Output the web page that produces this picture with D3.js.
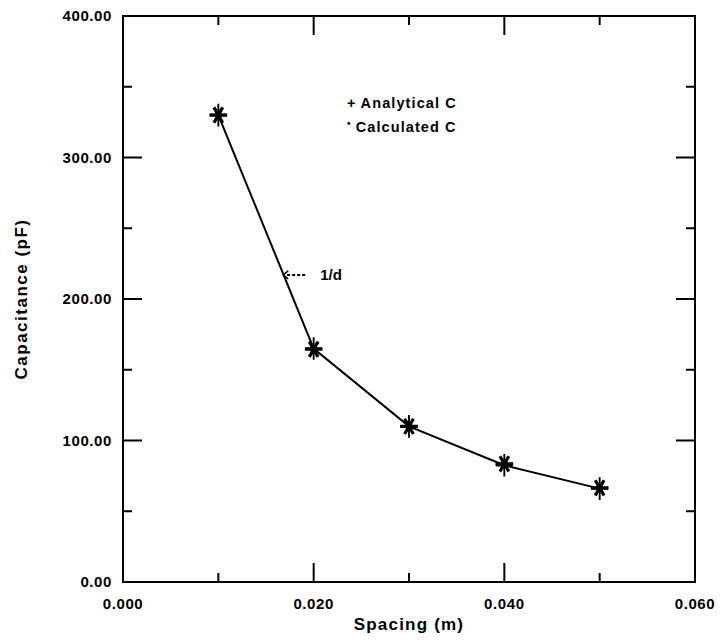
<!DOCTYPE html>
<html>
<head>
<meta charset="utf-8">
<script src="https://cdn.jsdelivr.net/npm/d3@7"></script>
<style>
  body { margin: 0; background: #fff; }
  text { font-family: "Liberation Sans", Arial, sans-serif; font-weight: bold; fill: #000; }
</style>
</head>
<body>
<svg id="chart" width="720" height="640"></svg>
<script>
var SPACING = [0.01, 0.02, 0.03, 0.04, 0.05];
var ANALYTICAL = [330, 165, 110, 82.5, 66];
var CALCULATED = [330, 164.5, 110, 83.5, 66.5];
var X_LABELS = [0, 0.02, 0.04, 0.06];
var X_MINOR = [0.01, 0.03, 0.05];
var Y_LABELS = [0, 100, 200, 300, 400];
var Y_MINOR = [50, 150, 250, 350];
var LEGEND = [['+', 'Analytical C'], ['\u2022', 'Calculated C']];
var NOTE = { x: 0.0168, y: 217, text: '1/d' };

var svg = d3.select('#chart');
var margin = { top: 16, right: 25, bottom: 58, left: 123 };
var width = 720 - margin.left - margin.right;
var height = 640 - margin.top - margin.bottom;

var x = d3.scaleLinear().domain([0, 0.06]).range([0, width]);
var y = d3.scaleLinear().domain([0, 400]).range([height, 0]);

var g = svg.append('g')
    .attr('transform', 'translate(' + margin.left + ',' + margin.top + ')');

// ----- frame + ticks (inward on all four sides) -----
g.append('rect')
    .attr('width', width).attr('height', height)
    .attr('fill', 'none').attr('stroke', '#000').attr('stroke-width', 2);

function xticks(vals, len) {
  vals.forEach(function (v) {
    if (v <= 0 || v >= 0.06) return;
    g.append('line').attr('x1', x(v)).attr('x2', x(v)).attr('y1', height).attr('y2', height - len);
    g.append('line').attr('x1', x(v)).attr('x2', x(v)).attr('y1', 0).attr('y2', len);
  });
}
function yticks(vals, len) {
  vals.forEach(function (v) {
    if (v <= 0 || v >= 400) return;
    g.append('line').attr('y1', y(v)).attr('y2', y(v)).attr('x1', 0).attr('x2', len);
    g.append('line').attr('y1', y(v)).attr('y2', y(v)).attr('x1', width).attr('x2', width - len);
  });
}
xticks(X_LABELS, 19);
xticks(X_MINOR, 9);
yticks(Y_LABELS, 19);
yticks(Y_MINOR, 9);
g.selectAll('line').attr('stroke', '#000').attr('stroke-width', 2);

g.selectAll('.xl')
    .data(X_LABELS)
  .enter().append('text')
    .attr('x', function (d) { return x(d); })
    .attr('y', height + 27)
    .attr('text-anchor', 'middle')
    .style('font-size', '15px')
    .style('letter-spacing', '0.6px')
    .text(function (d) { return d3.format('.3f')(d); });

g.selectAll('.yl')
    .data(Y_LABELS)
  .enter().append('text')
    .attr('x', -11)
    .attr('y', function (d) { return y(d) + 5; })
    .attr('text-anchor', 'end')
    .style('font-size', '15px')
    .style('letter-spacing', '0.6px')
    .text(function (d) { return d3.format('.2f')(d); });

g.append('text')
    .attr('x', width / 2)
    .attr('y', height + 48)
    .attr('text-anchor', 'middle')
    .style('font-size', '17px')
    .style('letter-spacing', '1.2px')
    .text('Spacing (m)');

g.append('text')
    .attr('transform', 'translate(' + (-96) + ',' + (height / 2) + ') rotate(-90)')
    .attr('text-anchor', 'middle')
    .style('font-size', '17px')
    .style('letter-spacing', '1.5px')
    .text('Capacitance (pF)');

// ----- curve -----
var data = SPACING.map(function (s, i) {
  return { s: s, a: ANALYTICAL[i], c: CALCULATED[i] };
});

g.append('path')
    .datum(data)
    .attr('fill', 'none')
    .attr('stroke', '#000')
    .attr('stroke-width', 2)
    .attr('d', d3.line().x(function (d) { return x(d.s); }).y(function (d) { return y(d.a); }));

// analytical: plus, calculated: asterisk
g.selectAll('.plus')
    .data(data)
  .enter().append('path')
    .attr('transform', function (d) { return 'translate(' + x(d.s) + ',' + y(d.a) + ') scale(0.75,1)'; })
    .attr('d', d3.symbol().type(d3.symbolPlus).size(170))
    .attr('fill', 'none').attr('stroke', '#000').attr('stroke-width', 2.5);

g.selectAll('.star')
    .data(data)
  .enter().append('path')
    .attr('transform', function (d) { return 'translate(' + x(d.s) + ',' + y(d.c) + ') rotate(90)'; })
    .attr('d', d3.symbol().type(d3.symbolAsterisk).size(220))
    .attr('fill', 'none').attr('stroke', '#000').attr('stroke-width', 3.2);

g.selectAll('.star-core')
    .data(data)
  .enter().append('circle')
    .attr('cx', function (d) { return x(d.s); })
    .attr('cy', function (d) { return y(d.c); })
    .attr('r', 3.5)
    .attr('fill', '#000');

// ----- legend -----
var leg = g.selectAll('.leg')
    .data(LEGEND)
  .enter().append('text')
    .attr('x', x(0.0235))
    .attr('y', function (d, i) { return y(400) + 92 + i * 24; })
    .style('font-size', '14.5px')
    .style('letter-spacing', '1.1px');
leg.append('tspan')
    .attr('dy', function (d, i) { return i ? -5 : 0; })
    .style('font-size', function (d, i) { return i ? '10px' : '14.5px'; })
    .text(function (d) { return d[0]; });
leg.append('tspan')
    .attr('dx', 4)
    .attr('dy', function (d, i) { return i ? 5 : 0; })
    .text(function (d) { return d[1]; });

// ----- 1/d note -----
var nx = x(NOTE.x), ny = y(NOTE.y);
g.append('path')
    .attr('d', 'M' + (nx + 5) + ',' + (ny - 4) + 'L' + nx + ',' + ny + 'L' + (nx + 5) + ',' + (ny + 4))
    .attr('fill', 'none').attr('stroke', '#000').attr('stroke-width', 1.5);
g.append('line')
    .attr('x1', nx + 4).attr('x2', nx + 22).attr('y1', ny).attr('y2', ny)
    .attr('stroke', '#000').attr('stroke-width', 2).attr('stroke-dasharray', '3,2');
g.append('text')
    .attr('x', nx + 37).attr('y', ny + 5)
    .style('font-size', '15px')
    .text(NOTE.text);
</script>
</body>
</html>
